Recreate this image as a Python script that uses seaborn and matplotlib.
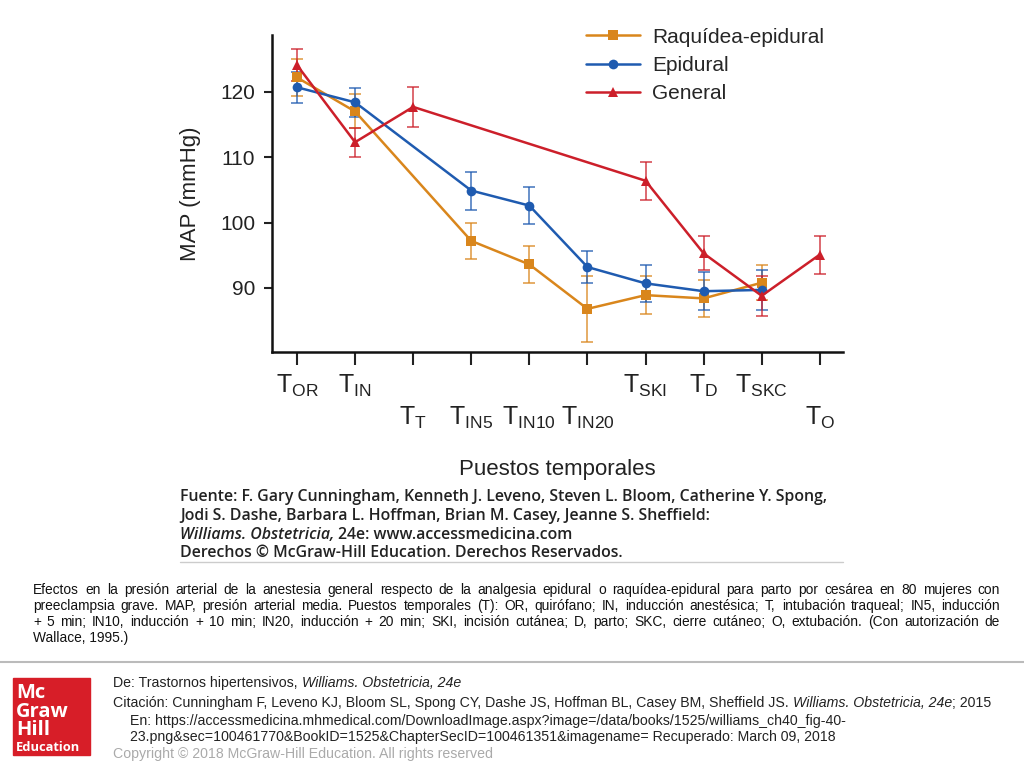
import numpy as np
import pandas as pd
import matplotlib
matplotlib.use('Agg')
import matplotlib.pyplot as plt
import seaborn as sns
from matplotlib.patches import Rectangle

# Data (MAP in mmHg, +/- error bar half-width)
puestos = ['OR', 'IN', 'T', 'IN5', 'IN10', 'IN20', 'SKI', 'D', 'SKC', 'O']
raquidea = [122.2, 117.0, None, 97.2, 93.6, 86.8, 88.9, 88.4, 90.8, None]
raquidea_err = [2.8, 2.6, None, 2.8, 2.8, 5.0, 2.9, 2.8, 2.7, None]
epidural = [120.7, 118.4, None, 104.9, 102.6, 93.2, 90.7, 89.5, 89.7, None]
epidural_err = [2.4, 2.2, None, 2.9, 2.8, 2.5, 2.8, 2.9, 3.0, None]
general = [124.1, 112.3, 117.7, None, None, None, 106.4, 95.3, 88.8, 95.1]
general_err = [2.4, 2.2, 3.0, None, None, None, 2.9, 2.6, 3.1, 2.9]

grupos = ['Raquídea-epidural', 'Epidural', 'General']
colores = {'Raquídea-epidural': '#D9861C', 'Epidural': '#1F5BB0', 'General': '#CC1F2A'}
marcadores = {'Raquídea-epidural': 's', 'Epidural': 'o', 'General': '^'}

caption = [
    "Efectos en la presión arterial de la anestesia general respecto de la analgesia epidural o raquídea-epidural para parto por cesárea en 80 mujeres con",
    "preeclampsia grave. MAP, presión arterial media. Puestos temporales (T): OR, quirófano; IN, inducción anestésica; T, intubación traqueal; IN5, inducción",
    "+ 5 min; IN10, inducción + 10 min; IN20, inducción + 20 min; SKI, incisión cutánea; D, parto; SKC, cierre cutáneo; O, extubación. (Con autorización de",
    "Wallace, 1995.)",
]

# long table, only existing points so lines bridge the gaps
rows = []
for g, vals, errs in zip(grupos, [raquidea, epidural, general],
                         [raquidea_err, epidural_err, general_err]):
    for i, (v, e) in enumerate(zip(vals, errs)):
        if v is not None:
            rows.append({'pos': i, 'map': v, 'err': e, 'grupo': g})
df = pd.DataFrame(rows)

sns.set_style('ticks')
plt.rcParams['font.family'] = ['Liberation Sans', 'DejaVu Sans']
plt.rcParams['mathtext.fontset'] = 'custom'
plt.rcParams['mathtext.rm'] = 'Liberation Sans'
plt.rcParams['mathtext.it'] = 'Liberation Sans:italic'
plt.rcParams['mathtext.bf'] = 'Liberation Sans:bold'

W, H = 1024, 768
fig = plt.figure(figsize=(W / 100, H / 100), dpi=100)
ax = fig.add_axes([272 / W, 1 - 352 / H, (843 - 272) / W, (352 - 35) / H])

for g in grupos:
    d = df[df.grupo == g]
    ax.errorbar(d['pos'], d['map'], yerr=d['err'], fmt='none', ecolor=colores[g],
                elinewidth=1.1, capsize=4, capthick=1.1, alpha=0.85, zorder=2)

sns.lineplot(data=df, x='pos', y='map', hue='grupo', style='grupo',
             hue_order=grupos, style_order=grupos, palette=colores,
             markers=marcadores, dashes=False, estimator=None, sort=False,
             linewidth=1.8, markersize=7, markeredgewidth=0, ax=ax, zorder=3)

ax.set_xlim(-0.43, 9.4)
ax.set_ylim(80.2, 128.7)
ax.set_yticks([90, 100, 110, 120])
ax.set_xticks(range(len(puestos)))
ax.set_xticklabels([r'$\mathrm{T_{%s}}$' % p for p in puestos], fontsize=18)
for i, t in enumerate(ax.xaxis.get_major_ticks()):
    t.set_pad(6 if i in (0, 1, 6, 7, 8) else 29)
ax.tick_params(axis='y', labelsize=15, length=6, width=1.5, pad=6, colors='#222222')
ax.tick_params(axis='x', length=9, width=1.5, colors='#222222')
ax.set_xlabel('')
ax.set_ylabel('MAP (mmHg)', fontsize=16, labelpad=14, color='#222222')
sns.despine(ax=ax)
for s in ['left', 'bottom']:
    ax.spines[s].set_linewidth(1.8)
    ax.spines[s].set_color('#111111')

h, l = ax.get_legend_handles_labels()
ax.legend(h, l, loc='upper left', bbox_to_anchor=(567 / W, 1 - 9 / H),
          bbox_transform=fig.transFigure, frameon=False, fontsize=15,
          handlelength=2.6, labelspacing=0.45, handletextpad=0.6)

fig.text(557 / W, 1 - 470 / H, 'Puestos temporales', fontsize=16,
         ha='center', va='center', color='#222222')

r = fig.canvas.get_renderer()

# source block under the chart
fkw = dict(fontsize=11.4, family='Open Sans', weight='semibold', va='center', color='#222222')
fig.text(180 / W, 1 - 497 / H,
         "Fuente: F. Gary Cunningham, Kenneth J. Leveno, Steven L. Bloom, Catherine Y. Spong,", **fkw)
fig.text(180 / W, 1 - 516 / H,
         "Jodi S. Dashe, Barbara L. Hoffman, Brian M. Casey, Jeanne S. Sheffield:", **fkw)
tmp = fig.text(180 / W, 1 - 535 / H, 'Williams. Obstetricia,', style='italic', **fkw)
wx = tmp.get_window_extent(r).x1
fig.text((wx + 4) / W, 1 - 535 / H, '24e: www.accessmedicina.com', **fkw)
fig.text(180 / W, 1 - 553 / H, "Derechos © McGraw-Hill Education. Derechos Reservados.", **fkw)
fig.add_artist(plt.Line2D([180 / W, 843 / W], [1 - 562 / H] * 2, color='#cccccc', lw=1))


def justified(text, x0, x1, y, **kw):
    words = text.split(' ')
    arts = [fig.text(0, 1 - y / H, w, va='center', **kw) for w in words]
    widths = [a.get_window_extent(r).width for a in arts]
    gap = (x1 - x0 - sum(widths)) / max(len(words) - 1, 1)
    x = x0
    for a, w in zip(arts, widths):
        a.set_x(x / W)
        x += w + gap


cy = [590, 606, 622, 638]
for i, (t, y) in enumerate(zip(caption, cy)):
    if i < len(caption) - 1:
        justified(t, 33, 1000, y, fontsize=9.9, color='#111111')
    else:
        fig.text(33 / W, 1 - y / H, t, fontsize=9.9, va='center', color='#111111')

fig.add_artist(plt.Line2D([0, 1], [1 - 662 / H] * 2, color='#bbbbbb', lw=1.5))

# publisher block
fig.add_artist(Rectangle((13 / W, 1 - 755 / H), 77 / W, 77 / H, color='#D71E28',
                         transform=fig.transFigure))
for t, y, fs in [('Mc', 698, 14.5), ('Graw', 717, 14.5), ('Hill', 735, 14.5), ('Education', 751, 9.3)]:
    fig.text(16 / W, 1 - y / H, t, fontsize=fs, family='Open Sans', weight='bold',
             color='white', va='baseline')

pkw = dict(fontsize=10.2, va='center', color='#222222')
t1 = fig.text(113 / W, 1 - 683 / H, 'De: Trastornos hipertensivos, ', **pkw)
x = t1.get_window_extent(r).x1
fig.text(x / W, 1 - 683 / H, 'Williams. Obstetricia, 24e', style='italic', **pkw)
t2 = fig.text(113 / W, 1 - 703 / H,
              'Citación: Cunningham F, Leveno KJ, Bloom SL, Spong CY, Dashe JS, Hoffman BL, Casey BM, Sheffield JS. ',
              **pkw)
x = t2.get_window_extent(r).x1
t3 = fig.text(x / W, 1 - 703 / H, 'Williams. Obstetricia, 24e', style='italic', **pkw)
x = t3.get_window_extent(r).x1
fig.text(x / W, 1 - 703 / H, '; 2015', **pkw)
fig.text(130 / W, 1 - 721 / H,
         'En: https://accessmedicina.mhmedical.com/DownloadImage.aspx?image=/data/books/1525/williams_ch40_fig-40-',
         **pkw)
fig.text(130 / W, 1 - 737 / H,
         '23.png&sec=100461770&BookID=1525&ChapterSecID=100461351&imagename= Recuperado: March 09, 2018',
         **pkw)
fig.text(113 / W, 1 - 754 / H, 'Copyright © 2018 McGraw-Hill Education. All rights reserved',
         fontsize=10.2, va='center', color='#aaaaaa')

fig.savefig('out.png', dpi=100, facecolor='white')
